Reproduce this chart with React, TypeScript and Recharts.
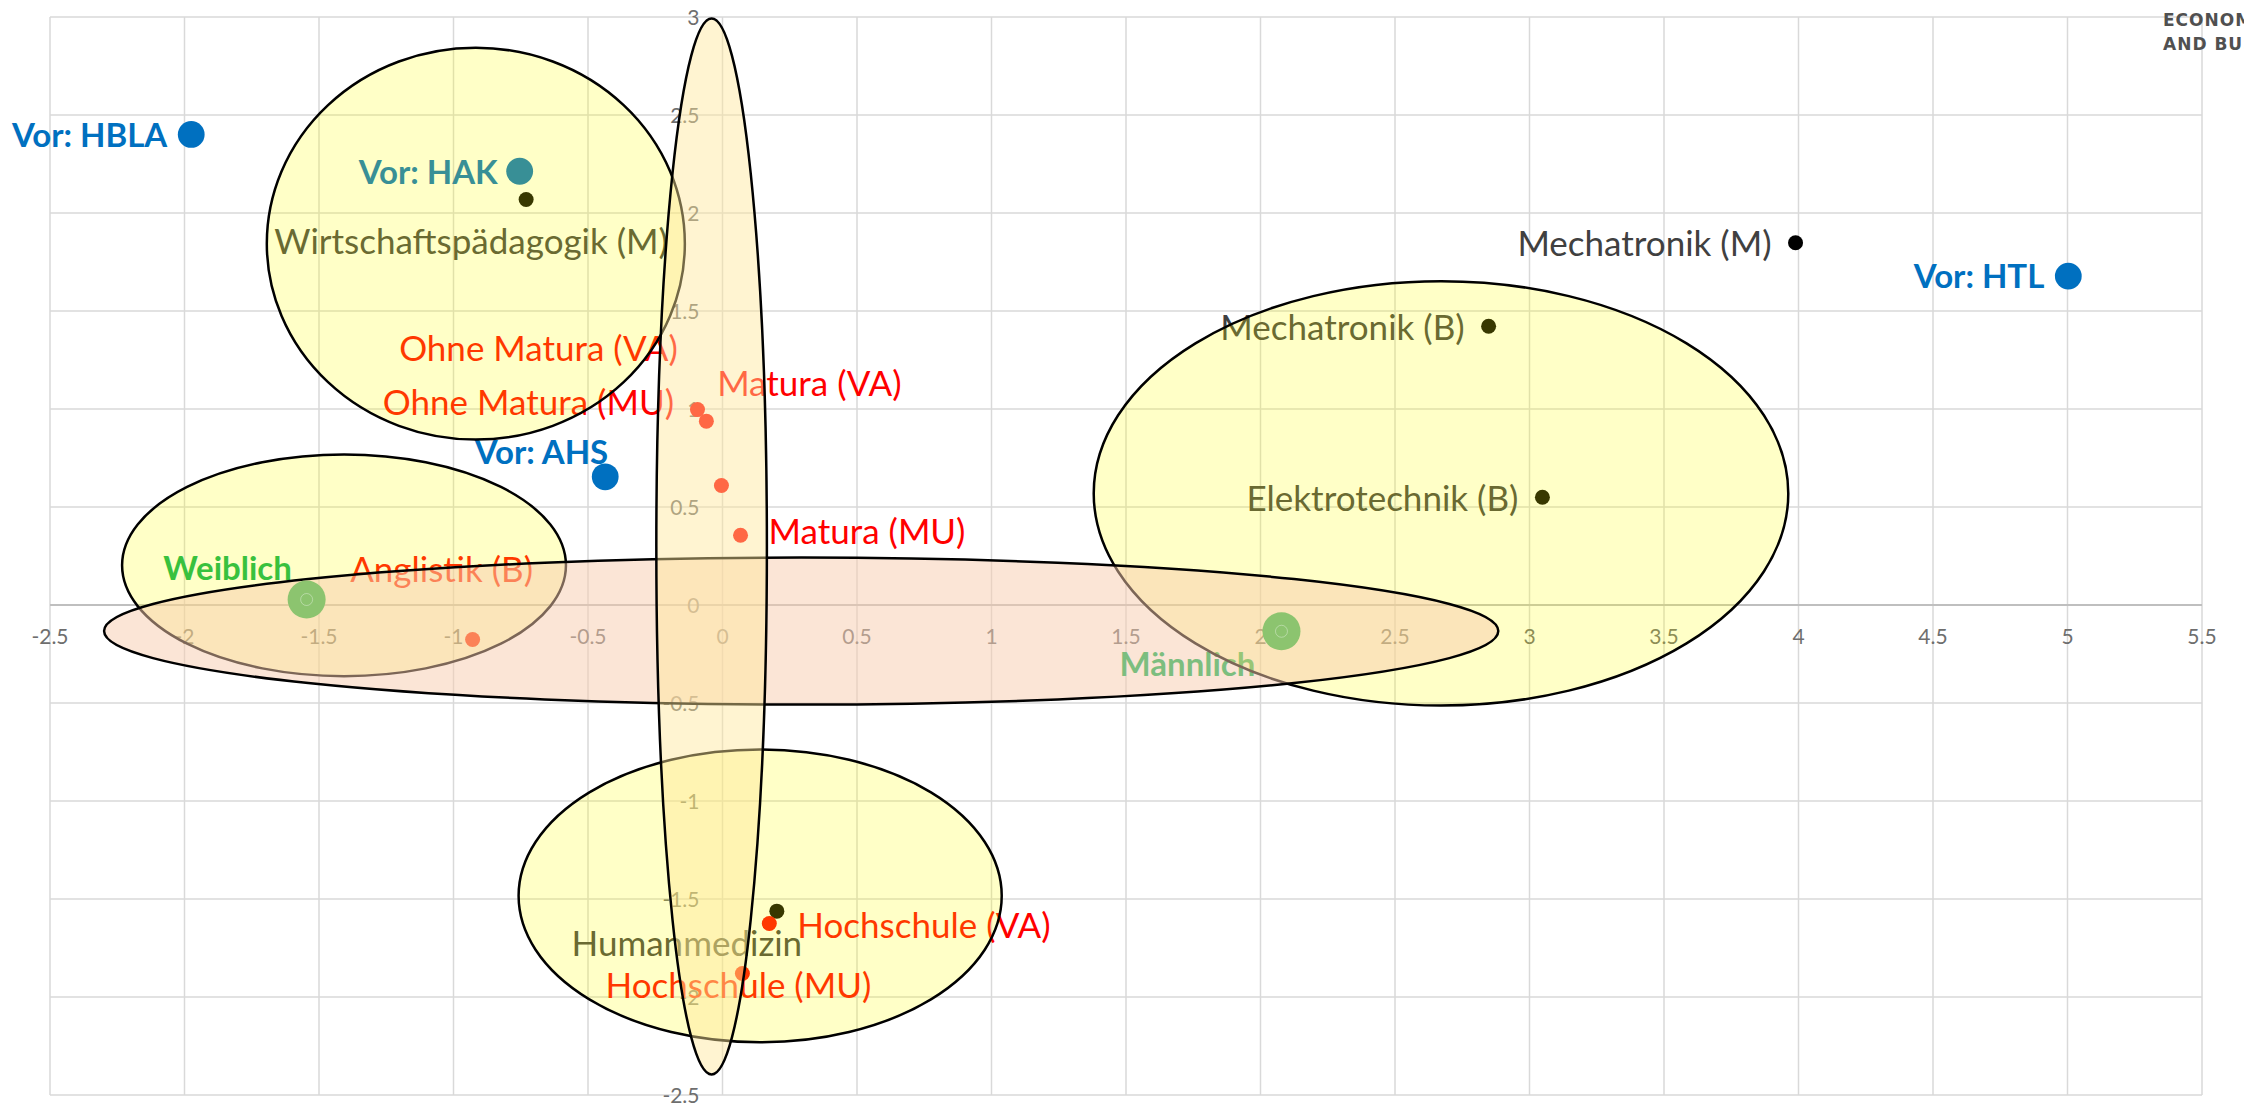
import {
  CartesianGrid,
  ReferenceArea,
  ReferenceLine,
  Scatter,
  ScatterChart,
  XAxis,
  YAxis
} from "recharts";

const xTicks = [-2.5, -2, -1.5, -1, -0.5, 0, 0.5, 1, 1.5, 2, 2.5, 3, 3.5, 4, 4.5, 5, 5.5];
const yTicks = [-2.5, -2, -1.5, -1, -0.5, 0, 0.5, 1, 1.5, 2, 2.5, 3];

// Vorbildung (blau)
const schoolNames = ["Vor: HBLA", "Vor: HAK", "Vor: AHS", "Vor: HTL"];
const schoolX = [-1.975, -0.754, -0.436, 5.003];
const schoolY = [2.401, 2.213, 0.654, 1.678];

// Studienrichtungen (schwarz)
const studyNames = [
  "Wirtschaftspädagogik (M)",
  "Mechatronik (M)",
  "Mechatronik (B)",
  "Elektrotechnik (B)",
  "Humanmedizin"
];
const studyX = [-0.73, 3.989, 2.848, 3.048, 0.202];
const studyY = [2.069, 1.848, 1.422, 0.55, -1.562];

// Bildung der Eltern + Anglistik (rot)
const redNames = [
  "Ohne Matura (VA)",
  "Matura (VA)",
  "Ohne Matura (MU)",
  "Matura (MU)",
  "Hochschule (VA)",
  "Hochschule (MU)",
  "Anglistik (B)"
];
const redX = [-0.093, -0.06, -0.004, 0.067, 0.174, 0.074, -0.929];
const redY = [0.997, 0.938, 0.61, 0.356, -1.625, -1.88, -0.176];

// Geschlecht (grün)
const genderNames = ["Weiblich", "Männlich"];
const genderX = [-1.546, 2.078];
const genderY = [0.028, -0.134];

// Ellipsen (Gruppen), in Achsenwerten
const ovalNames = ["weiblich", "technik", "medizin", "wirtschaft", "geschlecht", "matura"];
const ovalLeft = [-2.232, 1.38, -0.758, -1.694, -2.299, -0.246];
const ovalRight = [-0.582, 3.962, 1.038, -0.14, 2.884, 0.165];
const ovalTop = [0.768, 1.652, -0.737, 2.843, 0.242, 2.992];
const ovalBottom = [-0.363, -0.513, -2.231, 0.844, -0.508, -2.395];

const ovalFill: Record<string, { fill: string; opacity: number }> = {
  weiblich: { fill: "#FFFF00", opacity: 0.22 },
  technik: { fill: "#FFFF00", opacity: 0.22 },
  medizin: { fill: "#FFFF00", opacity: 0.22 },
  wirtschaft: { fill: "#FFFF00", opacity: 0.22 },
  geschlecht: { fill: "#F8CBAD", opacity: 0.5 },
  matura: { fill: "#FFE699", opacity: 0.45 }
};

type Anchor = "start" | "middle" | "end";
const labelPlacement: Record<string, { dx: number; dy: number; anchor: Anchor }> = {
  "Vor: HBLA": { dx: -24, dy: 1, anchor: "end" },
  "Vor: HAK": { dx: -22, dy: 1, anchor: "end" },
  "Vor: AHS": { dx: 3, dy: -25, anchor: "end" },
  "Vor: HTL": { dx: -24, dy: 0, anchor: "end" },
  "Wirtschaftspädagogik (M)": { dx: -55, dy: 42, anchor: "middle" },
  "Mechatronik (M)": { dx: -24, dy: 1, anchor: "end" },
  "Mechatronik (B)": { dx: -24, dy: 1, anchor: "end" },
  "Elektrotechnik (B)": { dx: -24, dy: 1, anchor: "end" },
  Humanmedizin: { dx: -90, dy: 32, anchor: "middle" },
  "Ohne Matura (VA)": { dx: -159, dy: -61, anchor: "middle" },
  "Matura (VA)": { dx: 103, dy: -38, anchor: "middle" },
  "Ohne Matura (MU)": { dx: -193, dy: -83, anchor: "middle" },
  "Matura (MU)": { dx: 28, dy: -4, anchor: "start" },
  "Hochschule (VA)": { dx: 28, dy: 2, anchor: "start" },
  "Hochschule (MU)": { dx: -4, dy: 12, anchor: "middle" },
  "Anglistik (B)": { dx: -31, dy: -70, anchor: "middle" },
  Weiblich: { dx: -79, dy: -31, anchor: "middle" },
  "Männlich": { dx: -94, dy: 33, anchor: "middle" }
};

const FONT = "Lato, 'Open Sans', sans-serif";

const toRows = (names: string[], xs: number[], ys: number[]) =>
  names.map((name, i) => ({ name, x: xs[i], y: ys[i] }));

const schoolData = toRows(schoolNames, schoolX, schoolY);
const studyData = toRows(studyNames, studyX, studyY);
const redData = toRows(redNames, redX, redY);
const genderData = toRows(genderNames, genderX, genderY);
const xTickData = xTicks.map((v) => ({ x: v, y: 0 }));
const yTickData = yTicks.map((v) => ({ x: 0, y: v }));

function pointShape(r: number, fill: string, textFill: string, bold: boolean, showDot = true, showText = true) {
  return (props: any) => {
    const { cx, cy, payload } = props;
    const place = labelPlacement[payload.name];
    return (
      <g>
        {showDot && <circle cx={cx} cy={cy} r={r} fill={fill} />}
        {showDot && r > 15 && (
          <circle cx={cx} cy={cy} r={6} fill="none" stroke="rgba(255,255,255,0.35)" strokeWidth={1} />
        )}
        {showText && place && (
          <text
            x={cx + place.dx}
            y={cy + place.dy}
            dy="0.36em"
            textAnchor={place.anchor}
            fill={textFill}
            fontFamily={FONT}
            fontSize={bold ? 33 : 35}
            fontWeight={bold ? 700 : 400}
          >
            {payload.name}
          </text>
        )}
      </g>
    );
  };
}

const xTickShape = (props: any) => (
  <text x={props.cx} y={props.cy + 39} textAnchor="middle" fill="#6E6E6E" fontFamily={FONT} fontSize={21}>
    {String(props.payload.x)}
  </text>
);

const yTickShape = (props: any) => (
  <text x={props.cx - 23} y={props.cy} dy="0.36em" textAnchor="end" fill="#6E6E6E" fontFamily={FONT} fontSize={21}>
    {String(props.payload.y)}
  </text>
);

const ovalShape = (props: any) => {
  const { x, y, width, height, fill, fillOpacity } = props;
  return (
    <ellipse
      cx={x + width / 2}
      cy={y + height / 2}
      rx={width / 2}
      ry={height / 2}
      fill={fill}
      fillOpacity={fillOpacity}
      stroke="#000"
      strokeWidth={2.5}
    />
  );
};

export default function App() {
  return (
    <div style={{ position: "relative", width: 2244, height: 1105, overflow: "hidden", background: "#fff" }}>
      <style>{"body{margin:0}"}</style>
      <ScatterChart width={2244} height={1105} margin={{ top: 17, right: 42, bottom: 10, left: 50 }}>
        <CartesianGrid stroke="#D9D9D9" strokeWidth={1.5} />
        <XAxis type="number" dataKey="x" domain={[-2.5, 5.5]} ticks={xTicks} hide />
        <YAxis type="number" dataKey="y" domain={[-2.5, 3]} ticks={yTicks} hide />
        <ReferenceLine y={0} stroke="#BFBFBF" strokeWidth={2} />
        <Scatter data={xTickData} shape={xTickShape} isAnimationActive={false} />
        <Scatter data={yTickData} shape={yTickShape} isAnimationActive={false} />
        <Scatter data={studyData} shape={pointShape(7.5, "#000000", "#404040", false)} isAnimationActive={false} />
        <Scatter data={redData} shape={pointShape(7.5, "#FF0000", "#FF0000", false)} isAnimationActive={false} />
        <Scatter data={schoolData} shape={pointShape(13.4, "#0070C0", "#0070C0", true)} isAnimationActive={false} />
        <Scatter
          data={genderData}
          shape={pointShape(19, "#8CC46F", "#00B050", true, false, true)}
          isAnimationActive={false}
        />
        {ovalNames.map((name, i) => (
          <ReferenceArea
            key={name}
            x1={ovalLeft[i]}
            x2={ovalRight[i]}
            y1={ovalTop[i]}
            y2={ovalBottom[i]}
            fill={ovalFill[name].fill}
            fillOpacity={ovalFill[name].opacity}
            ifOverflow="visible"
            shape={ovalShape}
            zIndex={650}
          />
        ))}
        <Scatter
          data={genderData}
          shape={pointShape(19, "#8CC46F", "#00B050", true, true, false)}
          isAnimationActive={false}
          zIndex={700}
        />
      </ScatterChart>
      <div
        style={{
          position: "absolute",
          left: 2163,
          top: 8,
          fontFamily: "'DejaVu Sans', sans-serif",
          fontWeight: 700,
          fontSize: 17,
          lineHeight: "24px",
          letterSpacing: 1,
          color: "#505050",
          whiteSpace: "nowrap"
        }}
      >
        <div>ECONOMICS</div>
        <div>AND BUSINESS</div>
      </div>
    </div>
  );
}
